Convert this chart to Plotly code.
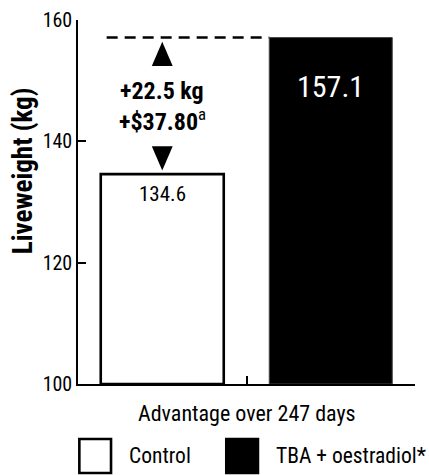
import plotly.graph_objects as go

# ---- data ----
groups = ["Control", "TBA + oestradiol*"]
liveweight = [134.6, 157.1]
bar_labels = ["134.6", "157.1"]
gain_text = ["+22.5 kg", "+$37.80<sup><span style='font-weight:normal'>a</span></sup>"]
y_ticks = [100, 120, 140, 160]
x_title = "Advantage over 247 days"
y_title = "Liveweight (kg)"

FONT = "Roboto Condensed, Roboto, sans-serif"
W, H = 429, 475
ML, MR, MT, MB = 78, 14, 20, 91
BW = 0.73

fig = go.Figure()
xs = list(range(len(groups)))
fig.add_trace(go.Bar(
    x=xs, y=[v - y_ticks[0] for v in liveweight], base=y_ticks[0], width=BW,
    marker=dict(color=["white", "black"], line=dict(color=["black", "#444"], width=[2.6, 1])),
    showlegend=False, hoverinfo="skip",
))

# value labels inside bars
fig.add_annotation(x=xs[0], y=liveweight[0], text=bar_labels[0], showarrow=False,
                   yanchor="top", yshift=-6, font=dict(family=FONT, size=21, color="black"))
fig.add_annotation(x=xs[1], y=liveweight[1], text=bar_labels[1], showarrow=False,
                   yanchor="top", yshift=-29, font=dict(family=FONT, size=30, color="white"))

# dashed reference line at the TBA level
ctrl_left = xs[0] - BW / 2
tba_left = xs[1] - BW / 2
fig.add_shape(type="line", x0=ctrl_left + 0.035, x1=tba_left, y0=liveweight[1], y1=liveweight[1],
              line=dict(color="black", width=2.5, dash="11px,7px"), layer="below")

# arrows (triangles) showing the difference
hw = 0.062
th = 4.0
up_tip = liveweight[1] - 0.7
dn_tip = liveweight[0] + 0.6
cx = xs[0]
fig.add_shape(type="path",
              path=f"M {cx-hw},{up_tip-th} L {cx+hw},{up_tip-th} L {cx},{up_tip} Z",
              fillcolor="black", line=dict(width=0))
fig.add_shape(type="path",
              path=f"M {cx-hw},{dn_tip+th} L {cx+hw},{dn_tip+th} L {cx},{dn_tip} Z",
              fillcolor="black", line=dict(width=0))

mid = (liveweight[0] + liveweight[1]) / 2
fig.add_annotation(x=cx, y=mid, text=gain_text[0], showarrow=False, yshift=15,
                   xanchor="center", yanchor="middle",
                   font=dict(family=FONT, size=24, color="black", weight="bold"))
fig.add_annotation(x=cx, y=mid, text=gain_text[1], showarrow=False, yshift=-14,
                   xanchor="center", yanchor="middle",
                   font=dict(family=FONT, size=24, color="black", weight="bold"))

# axis titles
fig.add_annotation(xref="paper", yref="paper", x=0.5, y=-0.08, text=x_title, showarrow=False,
                   xanchor="center", yanchor="middle",
                   font=dict(family=FONT, size=22, color="black"))
fig.add_annotation(xref="paper", yref="paper", x=-0.163, y=0.585, text=f"<b>{y_title}</b>",
                   showarrow=False, textangle=-90, xanchor="center", yanchor="middle",
                   font=dict(family=FONT, size=27, color="black"))

# legend (manual, large boxes)
leg_y0, leg_y1 = -0.2445, -0.151
for i, (name, fill, lx) in enumerate(zip(groups, ["white", "black"], [0.0, 0.436])):
    fig.add_shape(type="rect", xref="paper", yref="paper", x0=lx + 0.004, x1=lx + 0.098,
                  y0=leg_y0, y1=leg_y1, fillcolor=fill, line=dict(color="black", width=2.6))
    fig.add_annotation(xref="paper", yref="paper", x=lx + 0.146, y=(leg_y0 + leg_y1) / 2,
                       text=name, showarrow=False, xanchor="left", yanchor="middle",
                       font=dict(family=FONT, size=21.5, color="black"))

fig.update_layout(
    width=W, height=H, margin=dict(l=ML, r=MR, t=MT, b=MB, autoexpand=False),
    paper_bgcolor="white", plot_bgcolor="white",
    xaxis=dict(range=[-0.5, 1.5], showgrid=False, zeroline=False, showline=True,
               linecolor="black", linewidth=1.5, tickvals=[0.5, 1.5], ticks="inside",
               ticklen=8, tickwidth=1.5, tickcolor="black", showticklabels=False,
               automargin=False),
    yaxis=dict(range=[100, 160], showgrid=False, zeroline=False, showline=True,
               linecolor="black", linewidth=1.5, tickvals=y_ticks, ticks="inside",
               ticklen=8, tickwidth=1.5, tickcolor="black", automargin=False,
               tickfont=dict(family=FONT, size=20, color="black")),
)

fig.write_html("out.html", config={"displayModeBar": False},
               post_script="document.body.style.margin='0';")
